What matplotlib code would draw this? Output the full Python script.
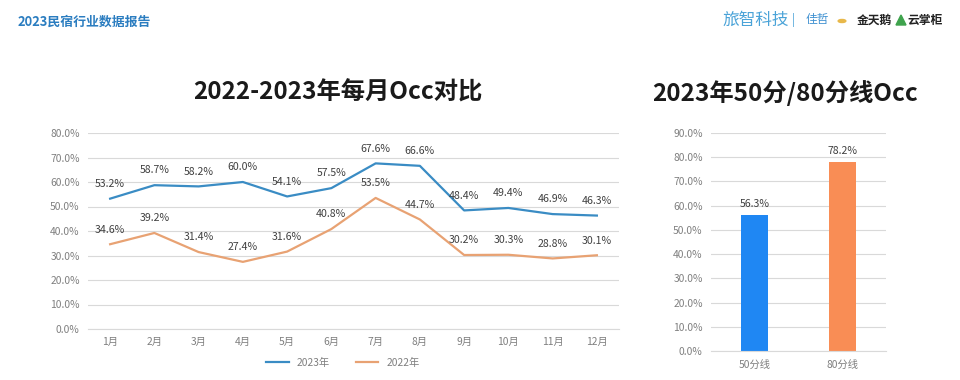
import matplotlib
matplotlib.use('Agg')
import matplotlib.pyplot as plt
from matplotlib.ticker import FuncFormatter

plt.rcParams['font.family'] = ['Noto Sans CJK SC', 'DejaVu Sans']

# 数据
months = ['1月', '2月', '3月', '4月', '5月', '6月', '7月', '8月', '9月', '10月', '11月', '12月']
occ_2023 = [53.2, 58.7, 58.2, 60.0, 54.1, 57.5, 67.6, 66.6, 48.4, 49.4, 46.9, 46.3]
occ_2022 = [34.6, 39.2, 31.4, 27.4, 31.6, 40.8, 53.5, 44.7, 30.2, 30.3, 28.8, 30.1]
bar_cats = ['50分线', '80分线']
bar_vals = [56.3, 78.2]

C_23 = '#3A8CC4'
C_22 = '#E8A273'
C_BAR = ['#1F87F3', '#F98D55']
C_GRID = '#D9D9D9'
C_TICK = '#7F7F7F'
C_LBL = '#404040'

W, H = 960, 380
fig = plt.figure(figsize=(W / 100, H / 100), dpi=100)


def px(l, t, r, b):
    return [l / W, 1 - b / H, (r - l) / W, (b - t) / H]


pct = FuncFormatter(lambda v, _: f'{v:.1f}%')


def style(ax):
    for s in ax.spines.values():
        s.set_visible(False)
    ax.spines['bottom'].set_visible(True)
    ax.spines['bottom'].set_color(C_GRID)
    ax.yaxis.grid(True, color=C_GRID, lw=0.8)
    ax.set_axisbelow(True)
    ax.tick_params(length=0, labelsize=7.4, colors=C_TICK, pad=6)
    ax.yaxis.set_major_formatter(pct)


# 页眉
fig.text(18 / W, 1 - 22 / H, '2023民宿行业数据报告', fontsize=9.3, color='#2B7DC0',
         va='center', ha='left', fontweight='bold')
fig.text(722 / W, 1 - 20 / H, '旅智科技', fontsize=12, color='#4AA3D8', va='center', ha='left')
fig.text(792 / W, 1 - 20 / H, '|', fontsize=9, color='#4AA3D8', va='center', ha='left')
fig.text(806 / W, 1 - 20 / H, '佳哲', fontsize=8.5, color='#3C8FD0', va='center', ha='left')
fig.text(857 / W, 1 - 20 / H, '金天鹅', fontsize=8.5, color='#222222', va='center', ha='left',
         fontweight='bold')
fig.text(907 / W, 1 - 20 / H, '云掌柜', fontsize=8.5, color='#222222', va='center', ha='left',
         fontweight='bold')
fig.patches.append(plt.Circle((842 / W, 1 - 21 / H), 0.004, color='#E8B84A',
                              transform=fig.transFigure))
fig.patches.append(plt.Polygon([[896 / W, 1 - 25 / H], [906 / W, 1 - 25 / H], [901 / W, 1 - 15 / H]],
                               color='#3FA34D', transform=fig.transFigure))

# 左图：折线
ax = fig.add_axes(px(88, 133, 619, 329))
style(ax)
x = list(range(len(months)))
ax.plot(x, occ_2023, color=C_23, lw=1.6, label='2023年')
ax.plot(x, occ_2022, color=C_22, lw=1.6, label='2022年')
for i, v in enumerate(occ_2023):
    ax.annotate(f'{v:.1f}%', (i, v), xytext=(0, 7), textcoords='offset points',
                ha='center', va='bottom', fontsize=7.6, color=C_LBL)
for i, v in enumerate(occ_2022):
    ax.annotate(f'{v:.1f}%', (i, v), xytext=(0, 7), textcoords='offset points',
                ha='center', va='bottom', fontsize=7.6, color=C_LBL)
ax.set_xlim(-0.5, len(months) - 0.5)
ax.set_ylim(0, 80)
ax.set_yticks(range(0, 81, 10))
ax.set_xticks(x)
ax.set_xticklabels(months)
ax.legend(loc='upper center', bbox_to_anchor=(0.48, -0.1), ncol=2, frameon=False,
          fontsize=7.4, labelcolor=C_TICK, handlelength=2.2, columnspacing=2.5)
fig.text(338 / W, 1 - 93 / H, '2022-2023年每月Occ对比', fontsize=17.5, fontweight='bold',
         ha='center', va='center', color='#1A1A1A')

# 右图：柱状
ax2 = fig.add_axes(px(711, 133, 886, 351))
style(ax2)
bx = list(range(len(bar_cats)))
bars = ax2.bar(bx, bar_vals, width=0.31, color=C_BAR)
for b, v in zip(bars, bar_vals):
    ax2.annotate(f'{v:.1f}%', (b.get_x() + b.get_width() / 2, v), xytext=(0, 4),
                 textcoords='offset points', ha='center', va='bottom', fontsize=7.6, color=C_LBL)
ax2.set_xlim(-0.5, 1.5)
ax2.set_ylim(0, 90)
ax2.set_yticks(range(0, 91, 10))
ax2.set_xticks(bx)
ax2.set_xticklabels(bar_cats)
fig.text(785 / W, 1 - 93 / H, '2023年50分/80分线Occ', fontsize=17.5, fontweight='bold',
         ha='center', va='center', color='#1A1A1A')

fig.savefig('out.png', dpi=100)
